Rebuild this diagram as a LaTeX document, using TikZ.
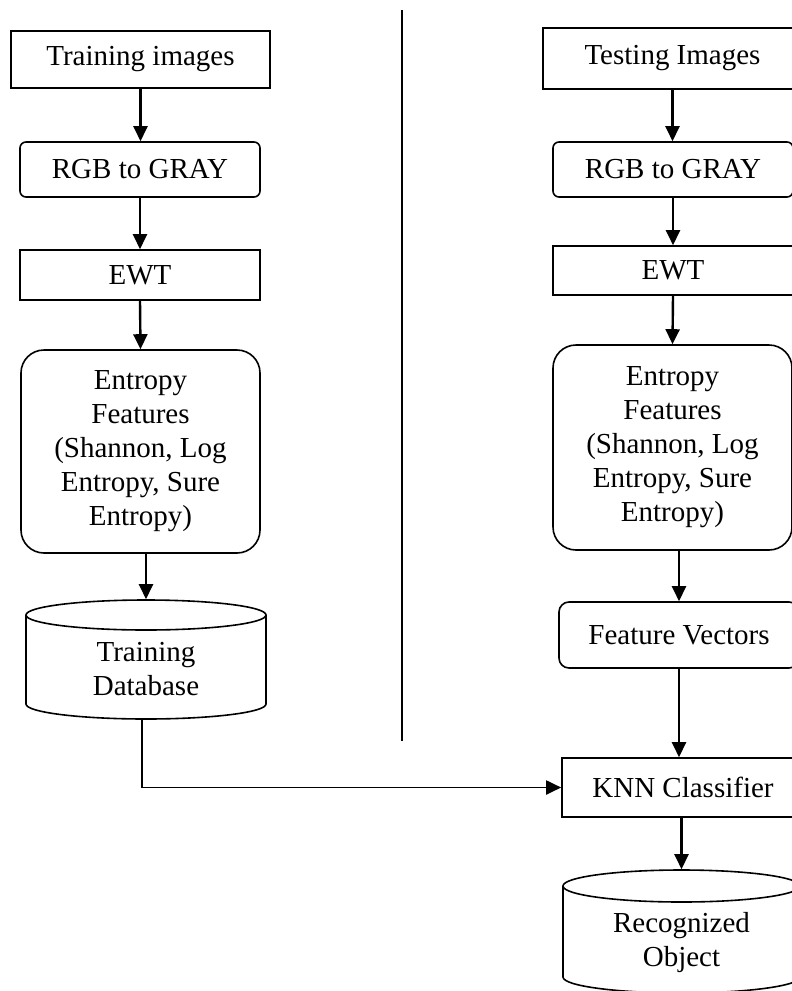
\documentclass[tikz,border=0pt]{standalone}
\usepackage{fontspec}
\setmainfont{Liberation Serif}
\usetikzlibrary{arrows.meta}
\begin{document}
\begin{tikzpicture}[x=1pt,y=-1pt,
  base/.style={line width=1.6pt, inner sep=0pt, align=center, font=\fontsize{29}{34}\selectfont},
  sqbox/.style={base, draw=black},
  rbox/.style={base, draw=black, rounded corners=#1},
  txt/.style={base, draw=none},
  arr/.style={line width=2.4pt, -{Triangle[length=15pt,width=14pt]}},
  conn/.style={line width=1.9pt, -{Triangle[length=15pt,width=14pt]}},
  divline/.style={line width=1.6pt}
]
\useasboundingbox (0,0) rectangle (792,991);
% left column
\node[sqbox, minimum width=259pt, minimum height=57pt] (ti) at (140.5,59.5) {Training images};
\node[rbox=6pt, minimum width=240pt, minimum height=55pt] (rgba) at (140,169.5) {RGB to GRAY};
\node[sqbox, minimum width=240pt, minimum height=50pt] (ewta) at (140,275) {EWT};
\node[rbox=23pt, minimum width=239pt, minimum height=203pt] (enta) at (140.5,451.5) {Entropy\\Features\\(Shannon, Log\\Entropy, Sure\\Entropy)};
\node[txt, minimum width=240pt, minimum height=119pt] (db) at (146,659.5) {};
\node[txt] (dbtext) at (146,669) {Training\\Database};
\draw[base] (26,615) -- (26,704) arc[start angle=180, end angle=360, x radius=120pt, y radius=15pt] -- (266,615);
\draw[base] (146,615) ellipse [x radius=120pt, y radius=15pt];
% right column
\node[sqbox, minimum width=259pt, minimum height=61pt] (te) at (672.5,58.5) {Testing Images};
\node[rbox=6pt, minimum width=240pt, minimum height=55pt] (rgbb) at (673,169.5) {RGB to GRAY};
\node[sqbox, minimum width=240pt, minimum height=49pt] (ewtb) at (673,270.5) {EWT};
\node[rbox=23pt, minimum width=239pt, minimum height=205pt] (entb) at (672.5,447.5) {Entropy\\Features\\(Shannon, Log\\Entropy, Sure\\Entropy)};
\node[rbox=10pt, minimum width=240pt, minimum height=66pt] (fv) at (679,635) {Feature Vectors};
\node[sqbox, minimum width=242pt, minimum height=59pt] (knn) at (683,787.5) {KNN Classifier};
\node[txt, minimum width=237pt, minimum height=123pt] (ro) at (681.5,931.5) {};
\node[txt] (rotext) at (681.5,943) {Recognized\\Object};
\draw[base] (563,886) -- (563,977) arc[start angle=180, end angle=360, x radius=118.5pt, y radius=16pt] -- (800,886);
\draw[base] (681.5,886) ellipse [x radius=118.5pt, y radius=16pt];
% divider
\coordinate (divtop) at (402,10);
\coordinate (divbot) at (402,741);
\draw[divline] (divtop) -- (divbot);
% arrows left
\draw[arr] (ti.south) -- (ti.south |- rgba.north);
\draw[arr] (rgba.south) -- (ewta.north);
\draw[arr] (ewta.south) -- (enta.north);
\draw[arr] (enta.south -| db.north) -- (db.north);
\draw[conn] ([xshift=-4pt]db.south) |- (knn.west);
% arrows right
\draw[arr] (te.south) -- (te.south |- rgbb.north);
\draw[arr] (rgbb.south) -- (ewtb.north);
\draw[arr] (ewtb.south) -- (entb.north);
\draw[arr] (entb.south -| fv.north) -- (fv.north);
\draw[arr] (fv.south) -- (fv.south |- knn.north);
\draw[arr] (knn.south -| ro.north) -- (ro.north);
\end{tikzpicture}
\end{document}
